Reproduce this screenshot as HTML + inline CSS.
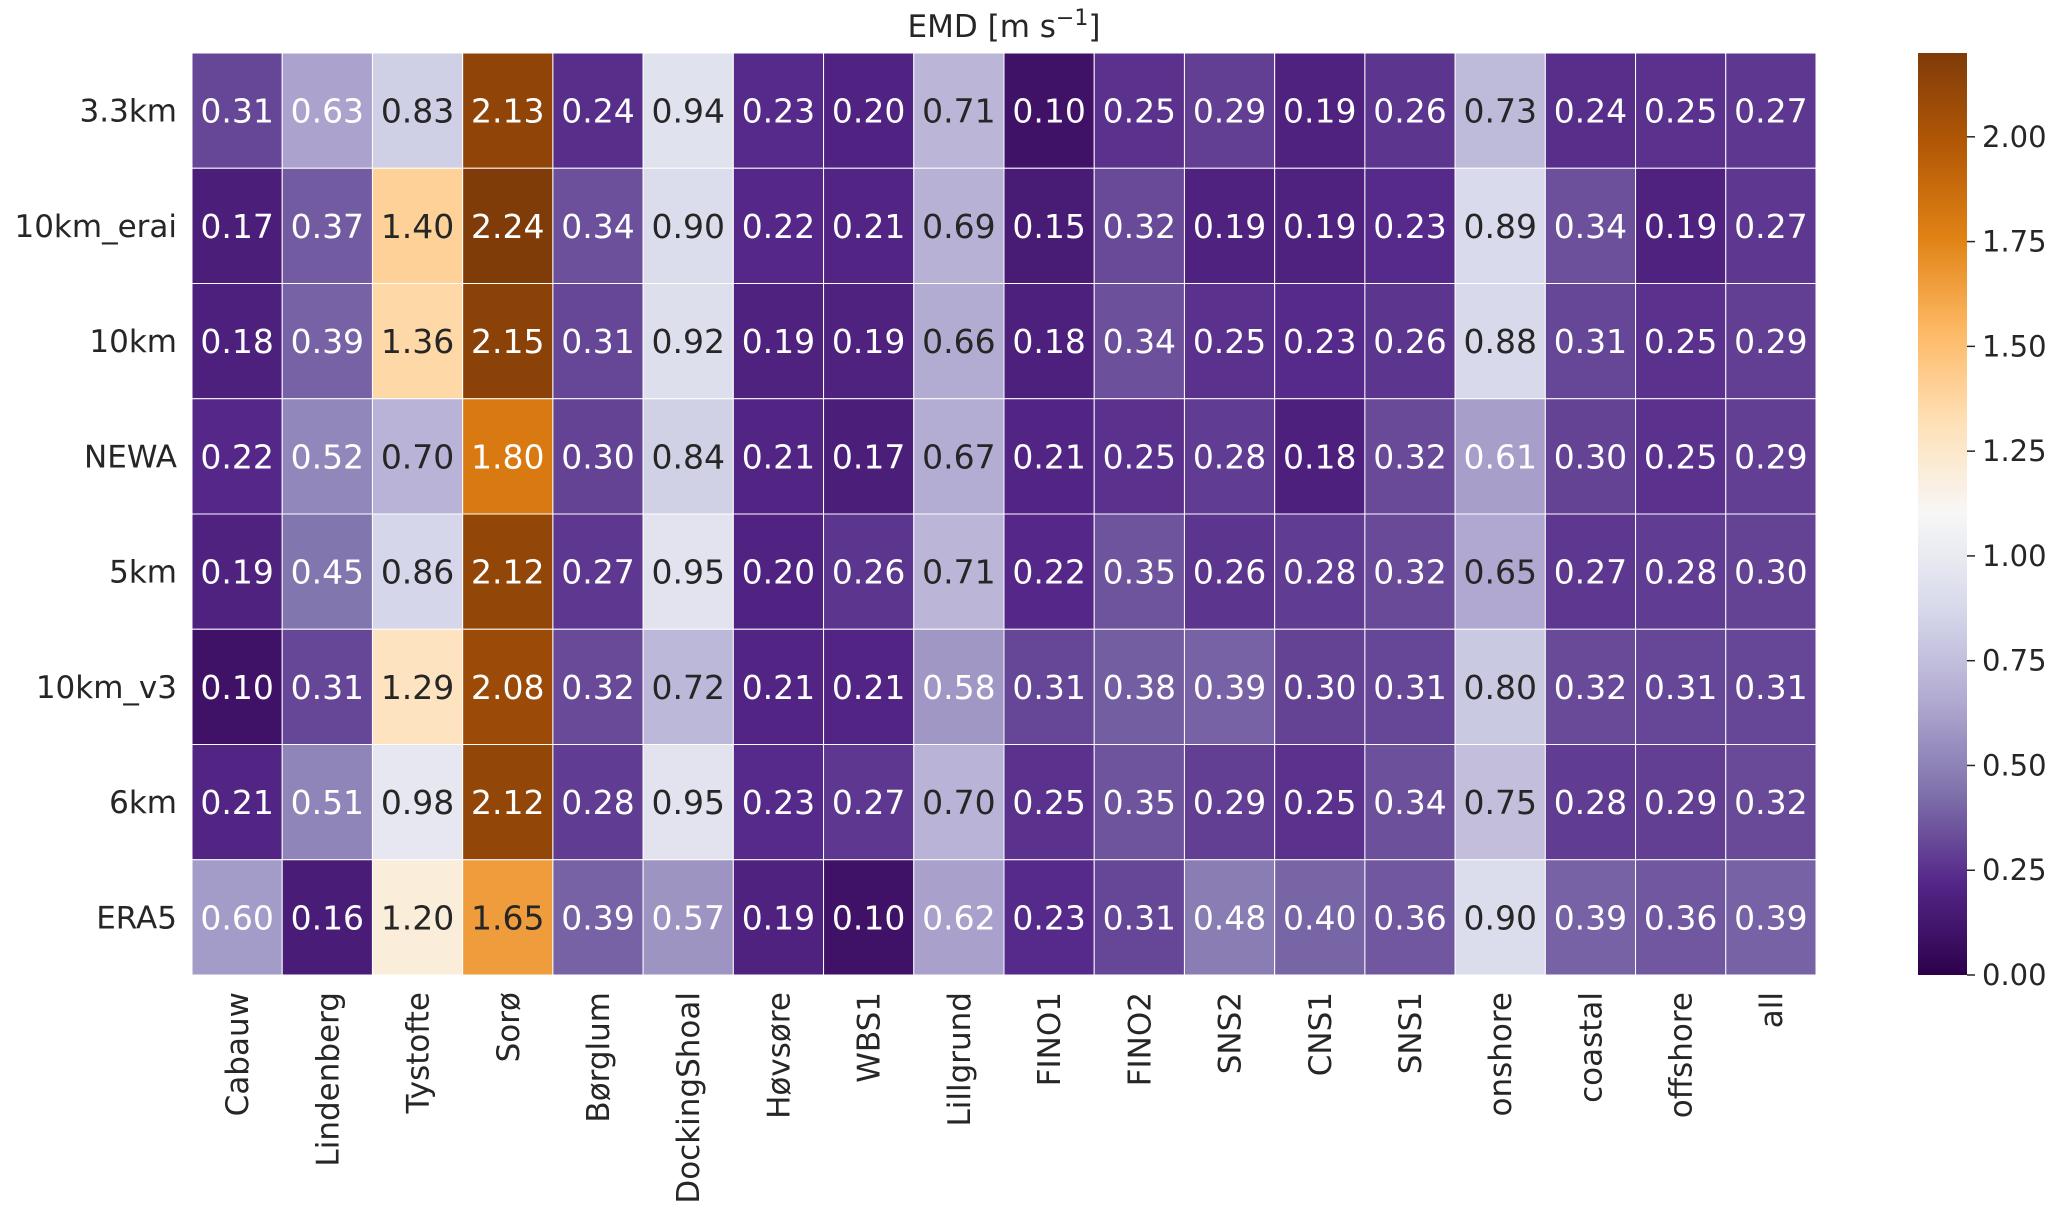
<!DOCTYPE html>
<html><head><meta charset="utf-8"><style>
html,body{margin:0;padding:0;background:#fff;}
svg{display:block;font-family:"DejaVu Sans","Liberation Sans",sans-serif;}
</style></head><body>
<svg id="chart" width="2067" height="1213" viewBox="0 0 2067 1213">
<defs>
<linearGradient id="cbgrad" x1="0" y1="1" x2="0" y2="0"></linearGradient>
</defs>
<text x="1004" y="37" text-anchor="middle" font-size="31" fill="#262626">EMD [m s<tspan baseline-shift="super" font-size="22">−1</tspan>]</text>
<g id="cells"></g>
<g id="ylabels"></g>
<g id="xlabels"></g>
<g id="colorbar"></g>
</svg>
<script>
const rowLabels = ["3.3km","10km_erai","10km","NEWA","5km","10km_v3","6km","ERA5"];
const colLabels = ["Cabauw","Lindenberg","Tystofte","Sorø","Børglum","DockingShoal","Høvsøre","WBS1","Lillgrund","FINO1","FINO2","SNS2","CNS1","SNS1","onshore","coastal","offshore","all"];
const row0 = [0.31,0.63,0.83,2.13,0.24,0.94,0.23,0.20,0.71,0.10,0.25,0.29,0.19,0.26,0.73,0.24,0.25,0.27];
const row1 = [0.17,0.37,1.40,2.24,0.34,0.90,0.22,0.21,0.69,0.15,0.32,0.19,0.19,0.23,0.89,0.34,0.19,0.27];
const row2 = [0.18,0.39,1.36,2.15,0.31,0.92,0.19,0.19,0.66,0.18,0.34,0.25,0.23,0.26,0.88,0.31,0.25,0.29];
const row3 = [0.22,0.52,0.70,1.80,0.30,0.84,0.21,0.17,0.67,0.21,0.25,0.28,0.18,0.32,0.61,0.30,0.25,0.29];
const row4 = [0.19,0.45,0.86,2.12,0.27,0.95,0.20,0.26,0.71,0.22,0.35,0.26,0.28,0.32,0.65,0.27,0.28,0.30];
const row5 = [0.10,0.31,1.29,2.08,0.32,0.72,0.21,0.21,0.58,0.31,0.38,0.39,0.30,0.31,0.80,0.32,0.31,0.31];
const row6 = [0.21,0.51,0.98,2.12,0.28,0.95,0.23,0.27,0.70,0.25,0.35,0.29,0.25,0.34,0.75,0.28,0.29,0.32];
const row7 = [0.60,0.16,1.20,1.65,0.39,0.57,0.19,0.10,0.62,0.23,0.31,0.48,0.40,0.36,0.90,0.39,0.36,0.39];
const values = [row0,row1,row2,row3,row4,row5,row6,row7];
const cbTicks = [0,0.25,0.5,0.75,1.0,1.25,1.5,1.75,2.0];
const vmin = 0, vmax = 2.2;

const NS = "http://www.w3.org/2000/svg";
const L = 192, R = 1816, T = 53, B = 975;
const cw = (R - L) / colLabels.length, rh = (B - T) / rowLabels.length;
const xPos = i => L + i * cw;
const yPos = j => T + j * rh;
const CB = {x: 1918, w: 49, top: 53, bot: 975};
const cbY = v => CB.bot - (v - vmin) / (vmax - vmin) * (CB.bot - CB.top);

const stops = ["#2d004b","#542788","#8073ac","#b2abd2","#d8daeb","#f7f7f7","#fee0b6","#fdb863","#e08214","#b35806","#7f3b08"];
function hex(h){return [1,3,5].map(i=>parseInt(h.substr(i,2),16));}
const sc = stops.map(hex);
function cmap(v){
  let t = Math.max(0, Math.min(1, (v - vmin) / (vmax - vmin))) * (sc.length - 1);
  let i = Math.min(Math.floor(t), sc.length - 2), f = t - i;
  return sc[i].map((c,k)=>Math.round(c + (sc[i+1][k]-c)*f));
}
function lum(rgb){
  const c = rgb.map(x=>{x/=255;return x<=0.03928?x/12.92:Math.pow((x+0.055)/1.055,2.4);});
  return 0.2126*c[0]+0.7152*c[1]+0.0722*c[2];
}
function mk(tag, attrs, parent){
  const e = document.createElementNS(NS, tag);
  for (const k in attrs) e.setAttribute(k, attrs[k]);
  parent.appendChild(e);
  return e;
}
const cells = document.getElementById("cells");
values.forEach((row,j)=>{
  row.forEach((v,i)=>{
    const rgb = cmap(v);
    const r = mk("rect",{x:xPos(i),y:yPos(j),width:cw,height:rh,fill:`rgb(${rgb})`,stroke:"#ffffff","stroke-width":1},cells);
    
    
    const t = mk("text",{x:xPos(i)+cw/2,y:yPos(j)+rh/2+12,"text-anchor":"middle","font-size":33,fill:lum(rgb)>0.408?"#262626":"#ffffff"},cells);
    t.textContent = v.toFixed(2);
    
    
  });
});
const yl = document.getElementById("ylabels");
rowLabels.forEach((s,j)=>{
  const t = mk("text",{x:177,y:yPos(j)+rh/2+11,"text-anchor":"end","font-size":31,fill:"#262626"},yl);
  t.textContent = s;
  
  
});
const xl = document.getElementById("xlabels");
colLabels.forEach((s,i)=>{
  const cx = xPos(i)+cw/2+11, y0 = 992;
  const t = mk("text",{x:cx,y:y0,"text-anchor":"end","font-size":31,fill:"#262626",transform:`rotate(-90 ${cx} ${y0})`},xl);
  t.textContent = s;
  
  
});
const grad = document.getElementById("cbgrad");
for (let k=0;k<=40;k++){
  const v = vmin + (vmax-vmin)*k/40;
  mk("stop",{offset:(k/40).toFixed(3),"stop-color":`rgb(${cmap(v)})`},grad);
}
const cb = document.getElementById("colorbar");
const cbr = mk("rect",{x:CB.x,y:CB.top,width:CB.w,height:CB.bot-CB.top,fill:"url(#cbgrad)"},cb);


cbTicks.forEach(v=>{
  const y = cbY(v);
  const ln = mk("line",{x1:CB.x+CB.w,x2:CB.x+CB.w+8,y1:y,y2:y,stroke:"#262626","stroke-width":1.5},cb);
  
  
  const t = mk("text",{x:CB.x+CB.w+15,y:y+10,"font-size":29,fill:"#262626"},cb);
  t.textContent = v.toFixed(2);
  
  
});
</script>
</body></html>
